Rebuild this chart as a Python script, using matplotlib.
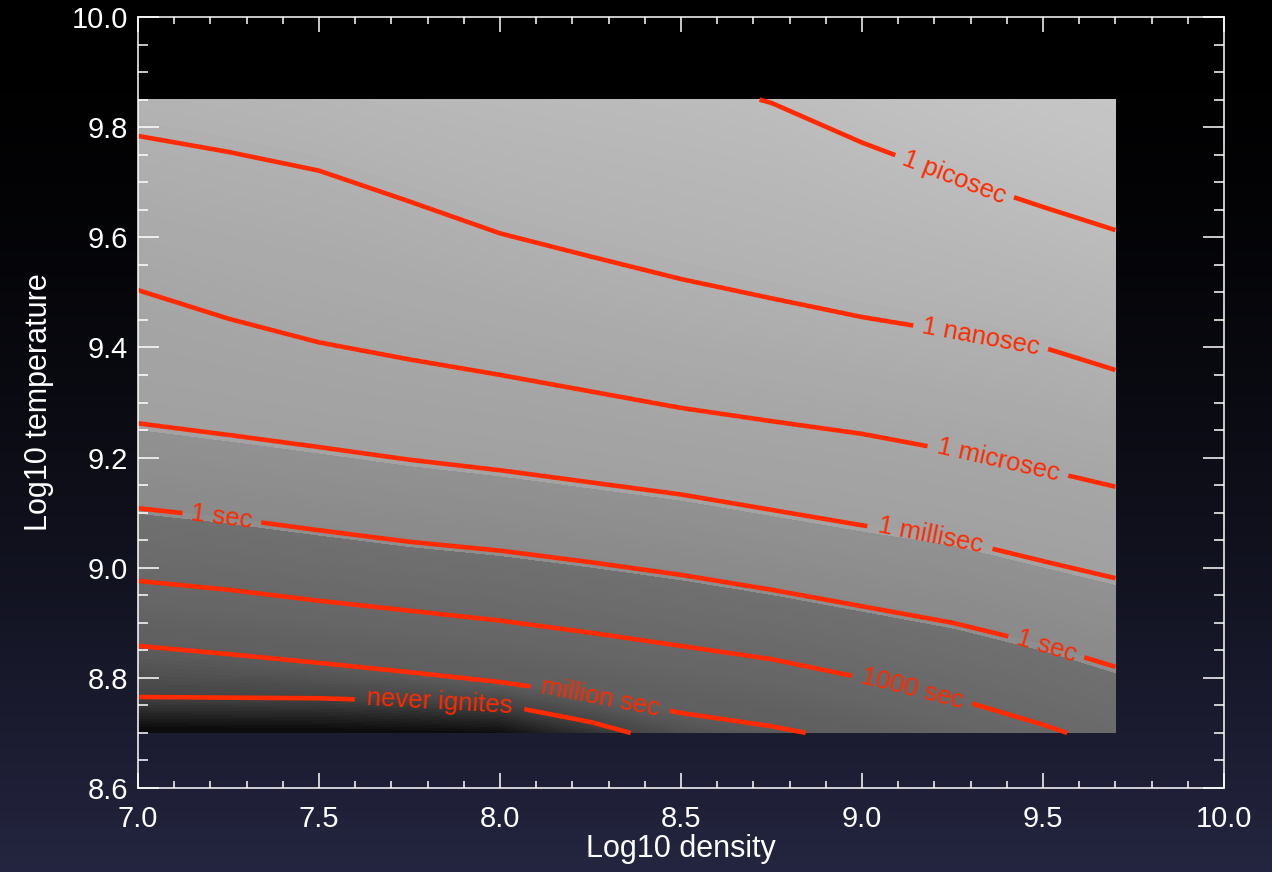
import numpy as np
import matplotlib
matplotlib.use('Agg')
import matplotlib.pyplot as plt
from matplotlib.ticker import MultipleLocator

density = [7.0, 7.25, 7.5, 7.75, 8.0, 8.25, 8.5, 8.75, 9.0, 9.25, 9.5, 9.7]

# log10 temperature of each ignition-time contour at those densities
T_top = [10.40, 10.36, 10.32, 10.28, 10.24, 10.20, 10.16, 10.12, 10.06, 10.00, 9.94, 9.90]
T_picosec = [10.10, 10.06, 10.02, 9.98, 9.95, 9.92, 9.89, 9.844, 9.772, 9.710, 9.655, 9.613]
T_nanosec = [9.784, 9.755, 9.721, 9.665, 9.607, 9.565, 9.524, 9.489, 9.455, 9.428, 9.400, 9.359]
T_microsec = [9.504, 9.452, 9.409, 9.378, 9.350, 9.320, 9.290, 9.266, 9.243, 9.212, 9.178, 9.147]
T_millisec = [9.262, 9.241, 9.219, 9.196, 9.177, 9.155, 9.133, 9.105, 9.077, 9.052, 9.012, 8.981]
T_sec = [9.108, 9.090, 9.068, 9.047, 9.031, 9.010, 8.987, 8.960, 8.930, 8.900, 8.860, 8.820]
T_ksec = [8.976, 8.960, 8.940, 8.922, 8.904, 8.882, 8.858, 8.834, 8.800, 8.764, 8.715, 8.670]
T_msec = [8.858, 8.843, 8.827, 8.810, 8.792, 8.768, 8.736, 8.712, 8.680, 8.640, 8.590, 8.550]
T_never = [8.765, 8.764, 8.763, 8.758, 8.752, 8.720, 8.675, 8.635, 8.595, 8.555, 8.515, 8.485]
T_black = [8.705, 8.704, 8.703, 8.700, 8.695, 8.658, 8.612, 8.572, 8.532, 8.492, 8.452, 8.422]

# log10 ignition time (s) of each track
track_levels = [-15, -12, -9, -6, -3, 0, 3, 6, 9, 12]
contour_levels = [-12, -9, -6, -3, 0, 3, 6, 9]
contour_names = ['1 picosec', '1 nanosec', '1 microsec', '1 millisec',
                 '1 sec', '1000 sec', 'million sec', 'never ignites']

tracks = [T_top, T_picosec, T_nanosec, T_microsec, T_millisec,
          T_sec, T_ksec, T_msec, T_never, T_black]

# grid covered by the calculation
rho = np.linspace(7.0, 9.7, 400)
temp = np.linspace(8.70, 9.85, 400)
Z = np.empty((len(temp), len(rho)))
for j, r in enumerate(rho):
    tcol = [np.interp(r, density, tr) for tr in tracks]
    Z[:, j] = np.interp(temp, tcol[::-1], track_levels[::-1])

# grey shades for the filled bands (light = fast)
anchor_z = [-15.5, -12, -9, -6, -3, -2.76, -2.74, 0, 0.24, 0.26, 3, 6, 9, 12.5]
anchor_g = [0.79, 0.74, 0.69, 0.65, 0.63, 0.65, 0.57, 0.54, 0.57, 0.44, 0.41, 0.37, 0.27, 0.0]
fill_levels = np.arange(-15.5, 12.75, 0.25)
mids = (fill_levels[:-1] + fill_levels[1:]) / 2
greys = np.interp(mids, anchor_z, anchor_g)
fill_colors = [(g, g, g) for g in greys]

red = '#ff2a00'

fig = plt.figure(figsize=(12.72, 8.72), dpi=100)
fig.patch.set_facecolor('black')

# dark keynote-style backdrop
bg = fig.add_axes([0, 0, 1, 1], zorder=-10)
t = np.linspace(0, 1, 256) ** 1.6
grad = np.zeros((256, 2, 3))
grad[:, :, 0] = (0.14 * t)[:, None]
grad[:, :, 1] = (0.145 * t)[:, None]
grad[:, :, 2] = (0.25 * t)[:, None]
bg.imshow(grad, aspect='auto', extent=[0, 1, 0, 1], origin='upper')
bg.axis('off')

ax = fig.add_axes([0.1085, 0.0963, 0.8538, 0.8842])
ax.set_facecolor('none')

ax.contourf(rho, temp, Z, levels=fill_levels, colors=fill_colors)
cs = ax.contour(rho, temp, Z, levels=contour_levels, colors=red,
                linewidths=3.3, linestyles='solid')

label_pos = [(9.257, 9.713), (9.326, 9.413), (9.376, 9.196), (9.188, 9.056),
             (7.232, 9.092), (9.511, 8.860), (9.138, 8.778), (8.276, 8.760),
             (7.834, 8.763)]
texts = ax.clabel(cs, fmt=dict(zip(contour_levels, contour_names)),
                  manual=label_pos, fontsize=18.5, inline=True, inline_spacing=10)
for tx in texts:
    tx.set_family('Liberation Sans')
    tx.set_color(red)

ax.set_xlim(7.0, 10.0)
ax.set_ylim(8.6, 10.0)
ax.xaxis.set_major_locator(MultipleLocator(0.5))
ax.xaxis.set_minor_locator(MultipleLocator(0.1))
ax.yaxis.set_major_locator(MultipleLocator(0.2))
ax.yaxis.set_minor_locator(MultipleLocator(0.05))

ax.tick_params(which='both', direction='in', top=True, right=True,
               colors='white', width=1.1, labelsize=21)
ax.tick_params(axis='x', which='major', length=10.8, pad=12)
ax.tick_params(axis='x', which='minor', length=5)
ax.tick_params(axis='y', which='major', length=15, pad=7)
ax.tick_params(axis='y', which='minor', length=7.2)
for lab in ax.get_xticklabels() + ax.get_yticklabels():
    lab.set_family('Liberation Sans')
for sp in ax.spines.values():
    sp.set_color('white')
    sp.set_linewidth(1.1)

ax.set_xlabel('Log10 density', color='white', fontsize=22,
              family='Liberation Sans', labelpad=1)
ax.set_ylabel('Log10 temperature', color='white', fontsize=22,
              family='Liberation Sans', labelpad=13)

fig.savefig('out.png', dpi=100, facecolor=fig.get_facecolor())
